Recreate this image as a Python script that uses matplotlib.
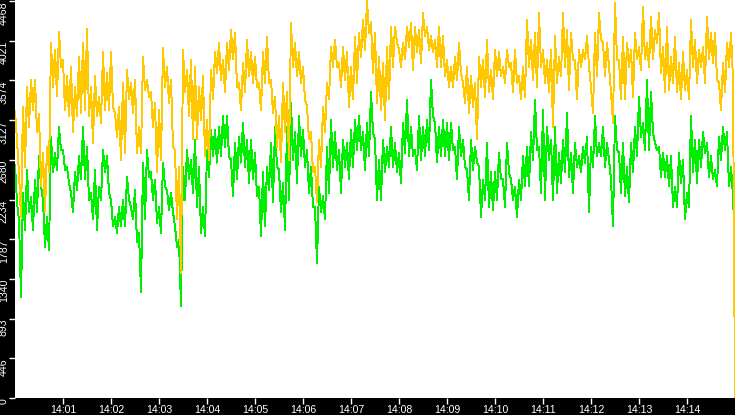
import matplotlib
matplotlib.use("Agg")
import matplotlib.pyplot as plt
import numpy as np
from matplotlib.transforms import ScaledTranslation

plt.rcParams["font.family"] = ["Liberation Sans", "DejaVu Sans"]

# === data: one sample every 2.5 s from 14:00:00 to 14:15:00 ===
start = np.datetime64("2024-01-01T14:00:00")
step_ms = 2500

orange = [
    3230, 2900, 2530, 2040, 3280, 2600, 3500, 3050, 3580, 3240, 3580, 2990, 3200, 2380, 2760, 2090, 2830, 2540, 4000, 3500,
    3920, 3400, 4120, 3730, 3800, 3240, 3620, 3170, 3730, 2990, 3500, 3170, 3840, 3210, 4000, 3240, 4150, 3170, 3500, 2870,
    3620, 3170, 3390, 3100, 3890, 3240, 3660, 3240, 3890, 3280, 3210, 2940, 3280, 2680, 3550, 2760, 3690, 3360, 3550, 3210,
    3580, 2760, 3050, 2760, 3840, 3470, 3580, 3390, 3440, 3050, 3320, 2540, 3240, 2680, 3940, 3500, 3730, 3320, 3580, 2830,
    2790, 2010, 2600, 1410, 3920, 3440, 3690, 3170, 3810, 2910, 3730, 2910, 3500, 3130, 3620, 2720, 3130, 2680, 3690, 3360,
    3890, 3660, 4000, 3580, 3810, 3440, 4000, 3690, 4140, 3810, 4110, 3500, 3550, 3240, 3770, 3440, 4030, 3620, 3890, 3550,
    3840, 3500, 3550, 3240, 3890, 3550, 4070, 3550, 3580, 3210, 3390, 2830, 3170, 2650, 3550, 2990, 3440, 2680, 4220, 3730,
    4000, 3620, 3890, 3550, 3730, 3360, 3280, 2910, 2990, 2540, 2600, 2200, 2910, 2600, 3280, 2990, 3550, 3360, 3950, 3730,
    4030, 3730, 3770, 3500, 3950, 3580, 3890, 3280, 3730, 3360, 4070, 3550, 4110, 3840, 4260, 3920, 4470, 4110, 4230, 3660,
    4110, 3320, 3840, 3240, 3770, 3130, 3950, 3360, 4180, 3730, 4180, 4000, 3920, 3730, 4000, 3810, 4180, 3950, 4220, 3690,
    4180, 3890, 4140, 3770, 4330, 4070, 4180, 3920, 4070, 3890, 4030, 3730, 4180, 3730, 4070, 3620, 3810, 3500, 3730, 3500,
    3840, 3580, 4000, 3660, 3550, 3320, 3730, 3210, 3620, 3280, 3550, 2910, 3840, 3500, 3810, 3390, 4030, 3440, 3690, 3360,
    3920, 3620, 3890, 3620, 3730, 3550, 3920, 3730, 3770, 3440, 3920, 3550, 3620, 3360, 3730, 3390, 4260, 3730, 4030, 3580,
    4110, 3500, 4330, 3730, 3920, 3550, 3810, 3440, 3920, 3050, 4070, 3550, 3840, 3620, 4330, 3730, 4140, 3470, 4110, 3810,
    3810, 3360, 3920, 3730, 3920, 3810, 4070, 3730, 3500, 3210, 4110, 3620, 4330, 4030, 4000, 3620, 4000, 3730, 3440, 3100,
    4450, 3810, 3810, 3360, 4070, 3360, 4000, 3730, 3920, 3390, 4110, 3810, 3950, 3690, 4400, 3810, 4000, 3730, 4290, 3810,
    4140, 4000, 4330, 3660, 3950, 3440, 4180, 3470, 3840, 3550, 4070, 3440, 3770, 3360, 3890, 3470, 3690, 3360, 4260, 3730,
    4030, 3550, 3920, 3730, 3950, 3550, 4290, 3810, 4110, 3770, 4110, 3580, 3550, 3240, 3770, 3440, 4000, 3730, 4110, 3580,
    0,
]

green = [
    2620, 2200, 2000, 1140, 2310, 1890, 2570, 2090, 2260, 1890, 2460, 2090, 2720, 2380, 2230, 1700, 2040, 1670, 2940, 2540,
    2760, 2570, 3050, 2790, 2790, 2570, 2600, 2420, 2310, 2090, 2540, 2340, 2720, 2460, 3050, 2460, 2830, 2230, 2310, 2010,
    2570, 1890, 2380, 2230, 2790, 2540, 2720, 2310, 2230, 1930, 2040, 1860, 2150, 1930, 2230, 1930, 2490, 2230, 2150, 2010,
    2340, 1750, 1860, 1190, 2650, 2010, 2790, 2490, 2540, 2230, 2460, 1970, 2150, 1860, 2650, 2380, 2340, 2120, 2310, 2090,
    1930, 1700, 1780, 1030, 2600, 2230, 2790, 2460, 2680, 2310, 2910, 2150, 2600, 1860, 2150, 1820, 2790, 2490, 3020, 2720,
    3020, 2650, 3050, 2720, 3170, 2830, 3170, 2720, 2680, 2270, 2870, 2460, 2940, 2650, 3100, 2600, 2910, 2420, 2910, 2460,
    2760, 2270, 2380, 1820, 2540, 1930, 2600, 2340, 2870, 2200, 3050, 2600, 2570, 2090, 2420, 1890, 3050, 2230, 3320, 2680,
    2990, 2420, 3170, 2720, 3020, 2600, 2790, 2310, 2600, 2150, 2150, 1520, 2380, 2090, 2270, 2010, 2830, 2310, 3130, 2600,
    2990, 2570, 2790, 2310, 2910, 2600, 2870, 2460, 3020, 2600, 3130, 2790, 3170, 2790, 2990, 2570, 3100, 2720, 3440, 2990,
    2910, 2230, 2680, 2230, 2910, 2540, 2830, 2600, 3050, 2600, 2870, 2540, 2760, 2420, 3100, 2760, 3360, 2720, 3050, 2720,
    2790, 2570, 3170, 2680, 3050, 2720, 3130, 2790, 3580, 3170, 3100, 2650, 3050, 2720, 3130, 2720, 3100, 2680, 3100, 2790,
    2830, 2460, 3050, 2720, 2910, 2600, 2570, 2230, 2910, 2570, 2830, 2650, 2600, 2040, 2460, 2230, 2870, 2150, 2540, 2120,
    2540, 2230, 2760, 2460, 2460, 2150, 2870, 2540, 2460, 2230, 2380, 2040, 2460, 2230, 2720, 2380, 2830, 2380, 2990, 2680,
    3360, 2790, 2830, 2310, 3240, 2230, 3050, 2680, 2910, 2230, 3050, 2310, 2760, 2420, 2910, 2540, 3210, 2490, 2760, 2310,
    2870, 2600, 2720, 2540, 2830, 2650, 2940, 2090, 2830, 2600, 3170, 2720, 2870, 2720, 3050, 2600, 2870, 2680, 2460, 1930,
    3170, 2790, 2760, 2310, 2870, 2270, 2600, 2200, 2870, 2540, 3050, 2720, 3390, 2940, 3100, 2790, 3580, 2790, 3440, 2990,
    2870, 2790, 2830, 2490, 2760, 2490, 2720, 2380, 2720, 2150, 2380, 2150, 2760, 2420, 2680, 2010, 2310, 2150, 3170, 2540,
    2910, 2420, 2910, 2600, 2990, 2760, 2870, 2490, 2720, 2460, 2570, 2380, 2940, 2680, 3050, 2790, 2990, 2380, 2600, 2270,
    1640,
]

ytick_labels = ["0", "446", "893", "1340", "1787", "2234", "2680", "3127", "3574", "4021", "4468"]
ytick_step = 446.8
xtick_labels = ["14:01", "14:02", "14:03", "14:04", "14:05", "14:06", "14:07",
                "14:08", "14:09", "14:10", "14:11", "14:12", "14:13", "14:14"]


def sample_times(n):
    return start + np.arange(n) * np.timedelta64(step_ms, "ms")


fig = plt.figure(figsize=(7.35, 4.15), dpi=100, facecolor="black")
ax = fig.add_axes([15 / 735, 17 / 415, 720 / 735, 398 / 415])
ax.set_facecolor("white")

ax.plot(sample_times(len(green)), green, color="#00ee00", lw=0.7, antialiased=False)
ax.plot(sample_times(len(orange)), orange, color="#ffc800", lw=0.7, antialiased=False)

ax.set_xlim(start, start + np.timedelta64(15, "m"))
ax.set_ylim(0, 4480)

for sp in ax.spines.values():
    sp.set_visible(False)

# y ticks: rotated labels hanging just under each tick
ax.set_yticks(np.arange(len(ytick_labels)) * ytick_step)
ax.set_yticklabels(ytick_labels, rotation=90, va="top")
for i, lab in enumerate(ax.get_yticklabels()):
    dy = 0.01 if i == len(ytick_labels) - 1 else 0.05
    lab.set_transform(lab.get_transform() + ScaledTranslation(0.025, dy, fig.dpi_scale_trans))

# x ticks every minute
xticks = [start + np.timedelta64(m + 1, "m") for m in range(len(xtick_labels))]
ax.set_xticks(xticks)
ax.set_xticklabels(xtick_labels)

ax.tick_params(axis="both", colors="white", length=4, width=1, direction="out", labelsize=7.6)
ax.tick_params(axis="y", pad=0.5)
ax.tick_params(axis="x", pad=1.0)

fig.savefig("out.png", dpi=100, facecolor="black")
